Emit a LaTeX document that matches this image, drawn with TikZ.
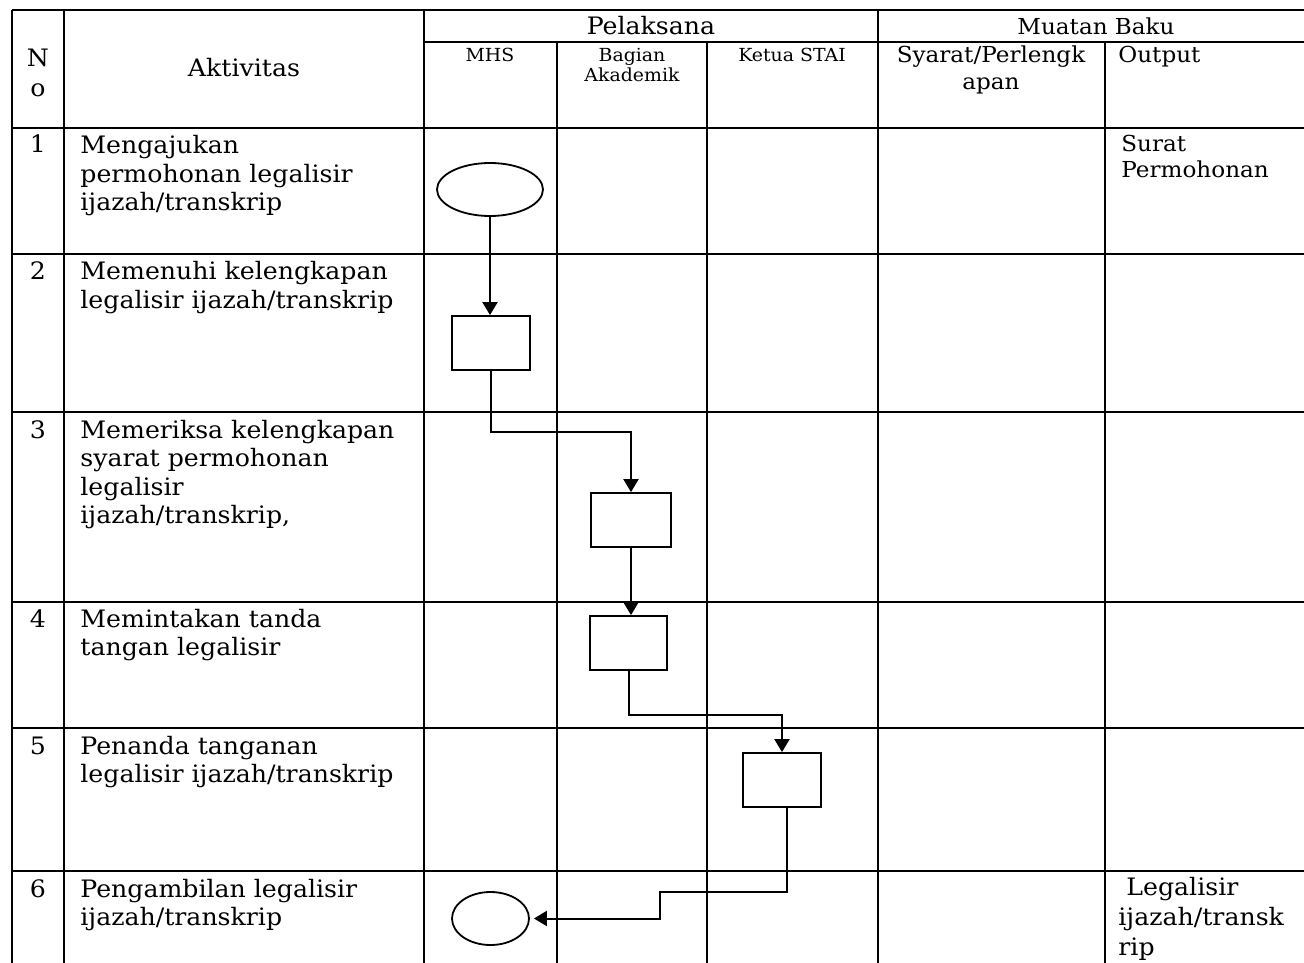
\documentclass[tikz,border=0pt]{standalone}
\usepackage{fontspec}
\setmainfont{DejaVu Serif}[FakeStretch=1.05]
\usetikzlibrary{arrows.meta,shapes.geometric,calc}

\newcommand\bodyfont{\fontsize{12pt}{14.25pt}\selectfont}
\newcommand\headfont{\fontsize{9pt}{10pt}\selectfont}
\newcommand\stdfont{\fontsize{11pt}{13.5pt}\selectfont}

% multi-line texts are placed by the baseline of their last line
\tikzset{
  grid/.style={line width=1pt},
  txt/.style={inner sep=0pt, align=left, anchor=base west, font=\bodyfont},
  ctxt/.style={inner sep=0pt, align=center, anchor=base, font=\bodyfont},
  num/.style={inner sep=0pt, anchor=base, font=\bodyfont},
  terminal/.style={draw, ellipse, line width=0.9pt, inner sep=0pt,
    minimum width=#1, minimum height=26.5pt},
  process/.style={draw, rectangle, line width=0.9pt, inner sep=0pt,
    minimum width=39pt, minimum height=27pt},
  flow/.style={line width=1pt, -{Triangle[length=6.5pt,width=7.5pt]}},
}

\begin{document}
\begin{tikzpicture}[x=0.5pt, y=-0.5pt]
\useasboundingbox (0,0) rectangle (1304,962);
\clip (0,0) rectangle (1304,962);

% table grid
\draw[grid] (12,10) -- (1315,10);
\draw[grid] (424,42) -- (1315,42);
\foreach \yy in {128,254,412,602,728,871,980}
  \draw[grid] (12,\yy) -- (1315,\yy);
\foreach \xx in {12,64,424,878,1315}
  \draw[grid] (\xx,10) -- (\xx,980);
\foreach \xx in {557,707,1105}
  \draw[grid] (\xx,42) -- (\xx,980);

% header texts
\node[ctxt] (hno) at (38,97) {N\\[0.75pt]o};
\node[ctxt] (hakt) at (244,77) {Aktivitas};
\node[ctxt] (hpel) at (651,35) {Pelaksana};
\node[ctxt, font=\stdfont] (hmua) at (1096,35) {Muatan Baku};
\node[ctxt, font=\headfont] (hmhs) at (490,62) {MHS};
\node[ctxt, font=\headfont] (hbag) at (632,82) {Bagian\\Akademik};
\node[ctxt, font=\headfont] (hket) at (792,62) {Ketua STAI};
\node[ctxt, font=\stdfont] (hsya) at (991,90) {Syarat/Perlengk\\apan};
\node[txt, font=\stdfont] (hout) at (1118,63) {Output};

% row numbers
\node[num] (n1) at (38,153) {1};
\node[num] (n2) at (38,280) {2};
\node[num] (n3) at (38,438) {3};
\node[num] (n4) at (38,627) {4};
\node[num] (n5) at (38,754) {5};
\node[num] (n6) at (38,897) {6};

% activities
\node[txt] (a1) at (80,211) {Mengajukan\\permohonan legalisir\\ijazah/transkrip};
\node[txt] (a2) at (80,308.5) {Memenuhi kelengkapan\\legalisir ijazah/transkrip};
\node[txt] (a3) at (80,523.5) {Memeriksa kelengkapan\\syarat permohonan\\legalisir\\ijazah/transkrip,};
\node[txt] (a4) at (80,655.5) {Memintakan tanda\\tangan legalisir};
\node[txt] (a5) at (80,782.5) {Penanda tanganan\\legalisir ijazah/transkrip};
\node[txt] (a6) at (80,925.5) {Pengambilan legalisir\\ijazah/transkrip};

% outputs
\node[txt, font=\fontsize{11pt}{13pt}\selectfont] (o1) at (1121,178) {Surat\\Permohonan};
\node[txt, font=\fontsize{12pt}{15pt}\selectfont] (o6) at (1118,955) {\ Legalisir\\ijazah/transk\\rip};

% flow shapes
\node[terminal=53pt] (e1) at (490,189.5) {};
\node[process] (b1) at (491,343) {};
\node[process, minimum width=40pt] (b2) at (631,520) {};
\node[process, minimum width=38.5pt] (b3) at (628.5,643) {};
\node[process] (b4) at (782,780) {};
\node[terminal=38.5pt] (e2) at (490.5,918.5) {};

% bend points of the connectors
\coordinate (k1) at (560,432);
\coordinate (k2) at (700,715);
\coordinate (k3) at (660,892);

% connectors
\draw[flow] (e1.south) -- (e1.south |- b1.north);
\draw[flow] (b1.south) |- (k1) -| (b2.north);
\draw[flow] (b2.south) -- (b2.south |- b3.north);
\draw[flow] (b3.south) |- (k2) -| (b4.north);
\draw[flow, shorten >=2pt] ($(b4.south)+(5,0)$) |- (k3) |- (e2.east);
\end{tikzpicture}
\end{document}
